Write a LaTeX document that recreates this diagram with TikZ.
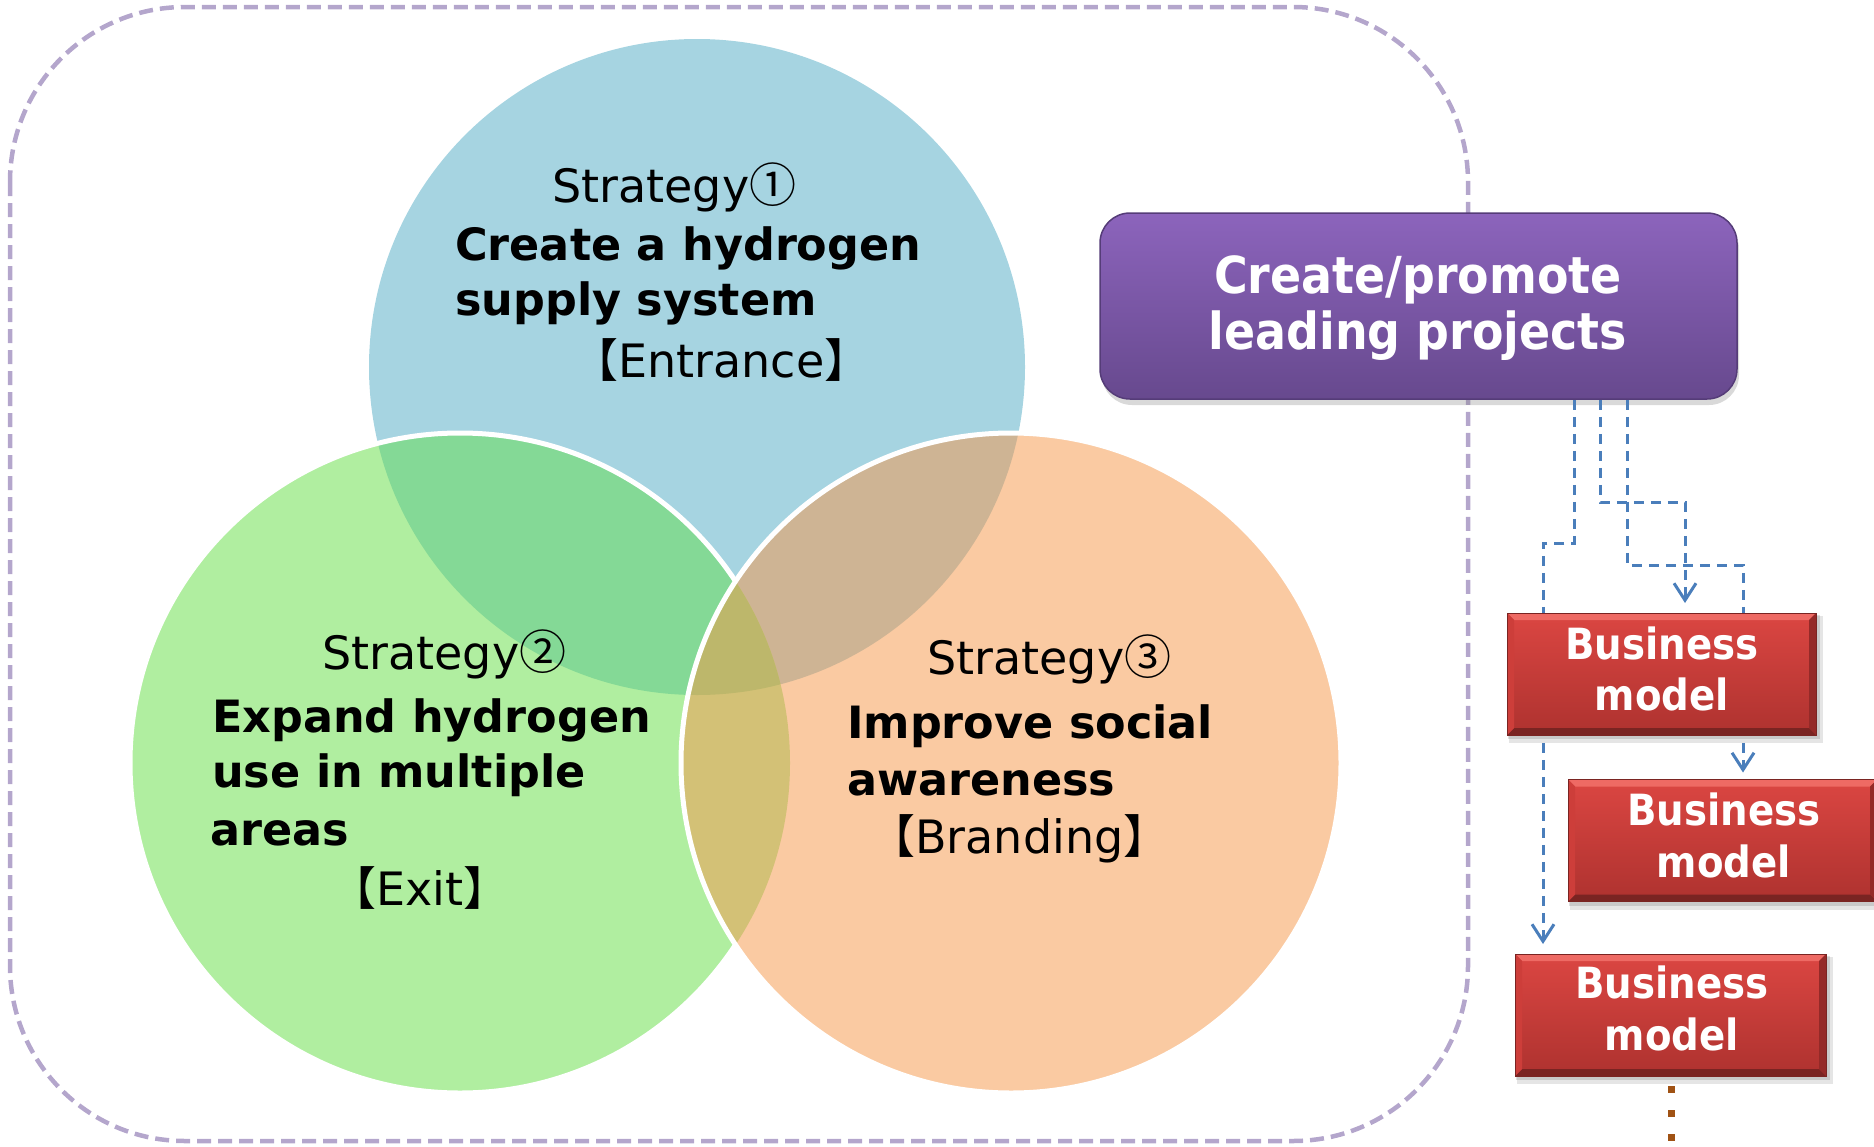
\documentclass[tikz,border=0pt]{standalone}
\usepackage{fontspec}
\setmainfont{DejaVu Sans}
\newfontfamily\cjkfont{Noto Sans CJK JP}
\newfontfamily\condfont{DejaVu Sans Condensed}
\usetikzlibrary{arrows.meta,shadows}
\definecolor{cblue}{RGB}{166,212,225}
\definecolor{cgreen}{RGB}{176,238,160}
\definecolor{corange}{RGB}{250,202,162}
\definecolor{cbg}{RGB}{132,217,150}
\definecolor{cbo}{RGB}{206,180,148}
\definecolor{cgo}{RGB}{211,193,118}
\definecolor{cbgo}{RGB}{189,183,107}
\definecolor{framecol}{RGB}{180,166,204}
\definecolor{connblue}{RGB}{74,126,187}
\definecolor{dotbrown}{RGB}{160,82,20}
\definecolor{pptop}{RGB}{140,100,188}
\definecolor{ppbot}{RGB}{103,73,142}
\definecolor{ppedge}{RGB}{85,60,120}
\definecolor{rtop}{RGB}{219,70,66}
\definecolor{rbot}{RGB}{174,50,47}
\definecolor{rlight}{RGB}{238,106,100}
\definecolor{rdark}{RGB}{122,36,34}
\definecolor{rleft}{RGB}{205,62,58}
\definecolor{rright}{RGB}{148,42,40}
\newcommand\redbevel[1]{%
  \fill[black,opacity=0.10] ([shift={(2pt,-3pt)}]#1.north west) rectangle ([shift={(7pt,-8pt)}]#1.south east);
  \fill[black,opacity=0.12] ([shift={(1pt,-2pt)}]#1.north west) rectangle ([shift={(4pt,-4pt)}]#1.south east);
  \shade[top color=rtop, bottom color=rbot] (#1.north west) rectangle (#1.south east);
  \fill[rlight] (#1.north west) -- (#1.north east) -- ([shift={(-7pt,-7pt)}]#1.north east) -- ([shift={(7pt,-7pt)}]#1.north west) -- cycle;
  \fill[rdark] (#1.south west) -- (#1.south east) -- ([shift={(-7pt,7pt)}]#1.south east) -- ([shift={(7pt,7pt)}]#1.south west) -- cycle;
  \fill[rleft] (#1.north west) -- ([shift={(7pt,-7pt)}]#1.north west) -- ([shift={(7pt,7pt)}]#1.south west) -- (#1.south west) -- cycle;
  \fill[rright] (#1.north east) -- ([shift={(-7pt,-7pt)}]#1.north east) -- ([shift={(-7pt,7pt)}]#1.south east) -- (#1.south east) -- cycle;
  \draw[rdark,line width=0.8pt] (#1.north west) rectangle (#1.south east);
}
\newcommand\circnum[1]{{\cjkfont\fontsize{47}{55}\selectfont #1}}
\begin{document}
\begin{tikzpicture}[x=1pt,y=-1pt,
  framestyle/.style={draw=framecol, line width=4.5pt, dash pattern=on 14pt off 7pt, rounded corners=175pt},
  ring/.style={draw=white, line width=5pt},
  regtxt/.style={anchor=base west, inner sep=0pt, font=\fontsize{46}{55}\selectfont},
  boldtxt/.style={anchor=base west, inner sep=0pt, font=\fontsize{44.5}{55}\selectfont\bfseries},
  ppbox/.style={minimum width=637pt, minimum height=186pt, rounded corners=30pt, top color=pptop, bottom color=ppbot, draw=ppedge, line width=1.5pt, drop shadow={shadow xshift=2pt, shadow yshift=-6pt, opacity=0.3}},
  pptxt/.style={anchor=base, inner sep=0pt, text=white, font=\condfont\fontsize{51}{56}\selectfont\bfseries},
  bmshape/.style={minimum width=309pt, minimum height=122pt, inner sep=0pt, outer sep=0pt},
  bmtxt/.style={anchor=base, inner sep=0pt, text=white, font=\condfont\fontsize{43}{51}\selectfont\bfseries},
  conn/.style={draw=connblue, line width=3pt, dash pattern=on 10pt off 7pt, -{Straight Barb[length=17pt,width=22pt,line width=3pt]}},
  dots/.style={draw=dotbrown, line width=7pt, dash pattern=on 7pt off 17pt}
]
\useasboundingbox (0,0) rectangle (1874,1146);
% frame
\draw[framestyle] (10,7) rectangle (1468,1141);
% circles
\coordinate (cB) at (697,367);
\coordinate (cG) at (460,763);
\coordinate (cO) at (1011,763);
\fill[cblue] (cB) circle[radius=328pt];
\fill[cgreen] (cG) circle[radius=330pt];
\begin{scope}
  \clip (cG) circle[radius=330pt];
  \fill[cbg] (cB) circle[radius=328pt];
\end{scope}
\draw[ring] (cG) circle[radius=330pt];
\fill[corange] (cO) circle[radius=330pt];
\begin{scope}
  \clip (cO) circle[radius=330pt];
  \fill[cbo] (cB) circle[radius=328pt];
  \fill[cgo] (cG) circle[radius=330pt];
  \clip (cB) circle[radius=328pt];
  \fill[cbgo] (cG) circle[radius=330pt];
\end{scope}
\draw[ring] (cO) circle[radius=330pt];
% circle texts
\node[regtxt] (s1) at (552,202) {Strategy\circnum{①}};
\node[boldtxt] (s1a) at (455,260) {Create a hydrogen};
\node[boldtxt] (s1b) at (455,315) {supply system};
\node[regtxt] (s1c) at (572,377) {{\cjkfont 【}Entrance{\cjkfont 】}};
\node[regtxt] (s2) at (322,669) {Strategy\circnum{②}};
\node[boldtxt] (s2a) at (212,732) {Expand hydrogen};
\node[boldtxt] (s2b) at (212,787) {use in multiple};
\node[boldtxt] (s2c) at (210,845) {areas};
\node[regtxt] (s2d) at (330,905) {{\cjkfont 【}Exit{\cjkfont 】}};
\node[regtxt] (s3) at (927,674) {Strategy\circnum{③}};
\node[boldtxt] (s3a) at (847,738) {Improve social};
\node[boldtxt] (s3b) at (847,795) {awareness};
\node[regtxt] (s3c) at (869,853) {{\cjkfont 【}Branding{\cjkfont 】}};
% purple box
\node[ppbox] (pp) at (1418.5,306) {};
\node[pptxt] (pp1) at (1418,293) {Create/promote};
\node[pptxt] (pp2) at (1418,349) {leading projects};
% business model boxes (shapes)
\node[bmshape] (b1) at (1661.5,674) {};
\node[bmshape] (b2) at (1722.5,840.5) {};
\node[bmshape, minimum width=311pt] (b3) at (1670.5,1015) {};
% connectors
\coordinate (xA) at (1574,0);
\coordinate (kA) at (1543,543);
\coordinate (xB) at (1600,0);
\coordinate (kB) at (1685,502);
\coordinate (xC) at (1627,0);
\coordinate (kC) at (1743,565);
\draw[conn, shorten >=10pt] (pp.south -| xA) |- (kA) -- (b3.north -| kA);
\draw[conn, shorten >=10pt] (pp.south -| xB) |- (kB) -- (b1.north -| kB);
\draw[conn, shorten >=7pt] (pp.south -| xC) |- (kC) -- (b2.north -| kC);
% paint boxes
\redbevel{b1}
\redbevel{b2}
\redbevel{b3}
\node[bmtxt] (b1t1) at (1662,659) {Business};
\node[bmtxt] (b1t2) at (1662,710) {model};
\node[bmtxt] (b2t1) at (1724,825) {Business};
\node[bmtxt] (b2t2) at (1724,877) {model};
\node[bmtxt] (b3t1) at (1672,998) {Business};
\node[bmtxt] (b3t2) at (1672,1050) {model};
% dots
\coordinate (xD) at (1671,0);
\draw[dots] (b3.south -| xD) ++(0,10) -- ++(0,60);
\end{tikzpicture}
\end{document}
